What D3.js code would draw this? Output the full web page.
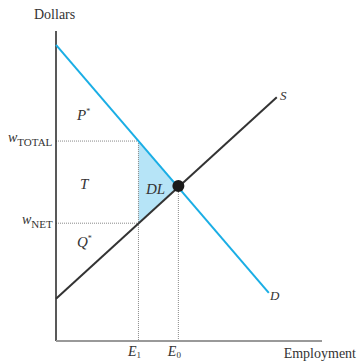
<!DOCTYPE html>
<html>
<head>
<meta charset="utf-8">
<script src="https://cdn.jsdelivr.net/npm/d3@7"></script>
<style>
  body { margin: 0; background: #fff; }
  svg { display: block; font-family: "Liberation Serif", "DejaVu Serif", serif; }
</style>
</head>
<body>
<div id="chart"></div>
<script>
// Courbes en unités du graphique (emploi 0-100, dollars 0-100)
const demande = [[0, 95.5], [80, 15.5]];
const offre = [[0, 13.6], [83, 78.6]];
const equilibre = [46, 50];
const E1 = 31;
const wTotal = 64.5;
const wNet = 38;
const triangleDL = [[E1, wTotal], equilibre, [E1, wNet]];

const W = 358, H = 362;
const svg = d3.select("#chart").append("svg").attr("width", W).attr("height", H);

const x = d3.scaleLinear().domain([0, 100]).range([56, 322]);
const y = d3.scaleLinear().domain([0, 100]).range([341, 31]);
const ligne = d3.line().x(d => x(d[0])).y(d => y(d[1]));

// Zone DL
svg.append("path")
    .attr("d", ligne(triangleDL) + "Z")
    .attr("fill", "#b6e4f7");

// Pointillés
const pointilles = [
    [[0, wTotal], [E1, wTotal]],
    [[0, wNet], [E1, wNet]],
    [[E1, wTotal], [E1, 0]],
    [equilibre, [equilibre[0], 0]]
];
svg.selectAll(".dot-line")
    .data(pointilles)
    .enter()
    .append("path")
    .attr("class", "dot-line")
    .attr("d", d => ligne(d))
    .attr("stroke", "#888")
    .attr("stroke-width", 1)
    .attr("stroke-dasharray", "1,1")
    .attr("fill", "none");

// Axes
svg.append("line")
    .attr("x1", x(0)).attr("x2", x(0))
    .attr("y1", y(100)).attr("y2", y(0))
    .attr("stroke", "#222").attr("stroke-width", 1.5);
svg.append("line")
    .attr("x1", x(0)).attr("x2", x(100))
    .attr("y1", y(0)).attr("y2", y(0))
    .attr("stroke", "#999").attr("stroke-width", 2);

// Courbes
svg.append("path").attr("d", ligne(offre))
    .attr("stroke", "#333").attr("stroke-width", 2).attr("fill", "none");
svg.append("path").attr("d", ligne(demande))
    .attr("stroke", "#1aaee5").attr("stroke-width", 2).attr("fill", "none");

svg.append("circle")
    .attr("cx", x(equilibre[0])).attr("cy", y(equilibre[1]))
    .attr("r", 6).attr("fill", "#1a1a1a");

// Textes
const txt = (px, py, s, opts = {}) => svg.append("text")
    .attr("x", px).attr("y", py)
    .attr("text-anchor", opts.anchor || "start")
    .style("font-size", (opts.size || 14) + "px")
    .style("font-style", opts.italic ? "italic" : "normal")
    .attr("fill", "#333")
    .text(s);

txt(34, 19, "Dollars");
txt(x(100) + 34, 358, "Employment", { anchor: "end" });

const pStar = txt(77, 120, "P", { italic: true, size: 15 });
pStar.append("tspan").attr("dy", -6).style("font-size", "8px").style("font-style", "normal").text("*");
txt(80, 189, "T", { italic: true, size: 15 });
const qStar = txt(77, 247, "Q", { italic: true, size: 15 });
qStar.append("tspan").attr("dy", -6).style("font-size", "8px").style("font-style", "normal").text("*");
txt(146, 194, "DL", { italic: true, size: 15 });

txt(280, 100, "S", { italic: true, size: 13 });
txt(270, 300, "D", { italic: true, size: 13 });

const wt = txt(8, y(wTotal) + 1, "w", { italic: true });
wt.append("tspan").attr("dy", 4).style("font-style", "normal").style("font-size", "11px").text("TOTAL");
const wn = txt(22, y(wNet) + 1, "w", { italic: true });
wn.append("tspan").attr("dy", 4).style("font-style", "normal").style("font-size", "11px").text("NET");

const e1 = txt(x(E1) - 4, 356, "E", { italic: true, anchor: "middle" });
e1.append("tspan").attr("dy", 2).style("font-style", "normal").style("font-size", "9px").text("1");
const e0 = txt(x(equilibre[0]) - 4, 356, "E", { italic: true, anchor: "middle" });
e0.append("tspan").attr("dy", 2).style("font-style", "normal").style("font-size", "9px").text("0");
</script>
</body>
</html>
